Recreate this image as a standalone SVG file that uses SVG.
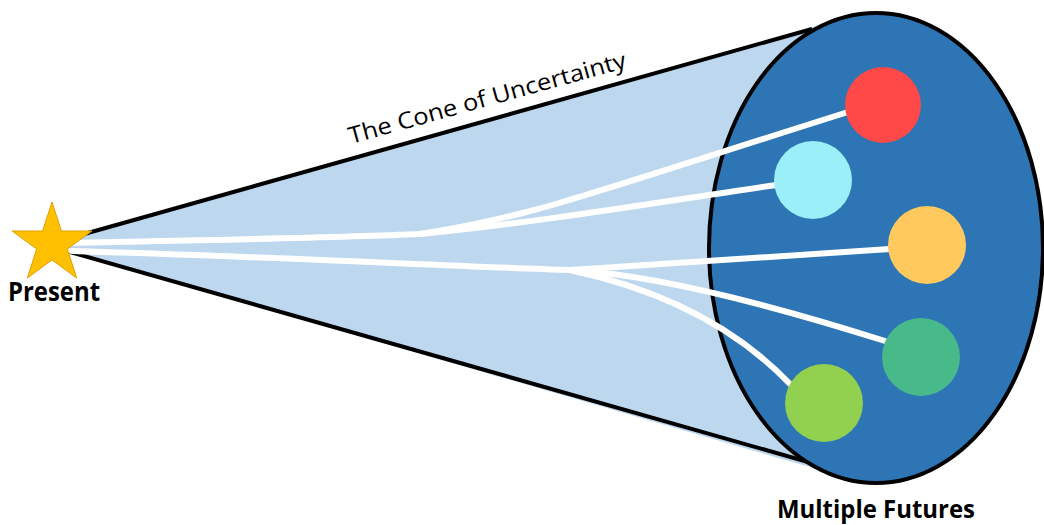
<svg xmlns="http://www.w3.org/2000/svg" width="1044" height="525" viewBox="0 0 1044 525">
<style>
.path{fill:none;stroke:#FFFFFF;stroke-width:6;stroke-linecap:round}
.fut{stroke:none}
.lbl{font-family:"Open Sans","Liberation Sans",sans-serif;fill:#000}
</style>
<rect width="1044" height="525" fill="#FFFFFF"/>
<g id="cone">
<polygon points="70,238 820,25 820,470 70,252" fill="#BDD7EE"/>
<line x1="70" y1="238" x2="812" y2="29" stroke="#000" stroke-width="4"/>
<line x1="70" y1="252" x2="808" y2="462" stroke="#000" stroke-width="4"/>
</g>
<g id="futures-ellipse">
<ellipse cx="876" cy="248" rx="167" ry="235" fill="#2E75B6" stroke="#000" stroke-width="4"/>
</g>
<g id="connectors">
<path class="path" d="M72,243 C200,240 330,238 420,234 C500,222 569,200 569,200 C620,185 690,162 848,112"/>
<path class="path" d="M420,234 C540,222 640,205 776,185"/>
<path class="path" d="M72,251 C250,256 450,266 570,270"/>
<path class="path" d="M570,270 L890,249"/>
<path class="path" d="M570,270 Q680,276 885,341"/>
<path class="path" d="M570,270 Q710,300 790,384"/>
</g>
<g id="future-red"><circle class="fut" cx="883" cy="105" r="38" fill="#FF4848"/></g>
<g id="future-cyan"><circle class="fut" cx="813" cy="180" r="39" fill="#9BEFF8"/></g>
<g id="future-yellow"><circle class="fut" cx="927" cy="245" r="39" fill="#FFC95E"/></g>
<g id="future-teal"><circle class="fut" cx="921" cy="357" r="39" fill="#48BA8A"/></g>
<g id="future-green"><circle class="fut" cx="824" cy="403" r="39" fill="#92D050"/></g>
<g id="present">
<polygon points="52,202 61.4,231 91.9,231 67.3,249 76.7,278 52,260 27.3,278 36.7,249 12.1,231 42.6,231" fill="#FFC000" stroke="#E0A000" stroke-width="1"/>
<text class="lbl" x="8" y="301" font-size="26" font-weight="bold" textLength="92" lengthAdjust="spacingAndGlyphs">Present</text>
</g>
<g id="labels">
<text class="lbl" x="0" y="0" font-size="23" transform="translate(351,144) rotate(-15.5)" textLength="287" lengthAdjust="spacingAndGlyphs">The Cone of Uncertainty</text>
<text class="lbl" x="777" y="518" font-size="25" font-weight="bold" textLength="198" lengthAdjust="spacingAndGlyphs">Multiple Futures</text>
</g>
</svg>
